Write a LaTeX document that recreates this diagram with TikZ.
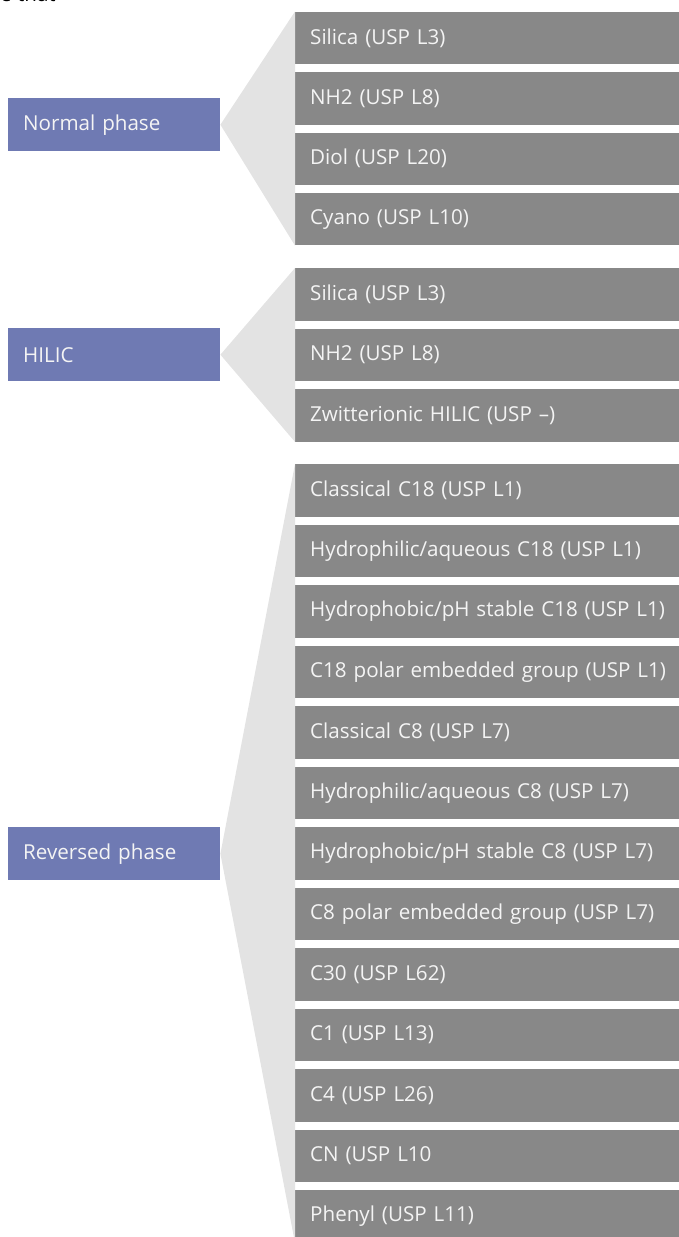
\documentclass[tikz,border=0pt]{standalone}
\usepackage{fontspec}
\setmainfont{Open Sans}
\definecolor{catblue}{RGB}{111,122,179}
\definecolor{itemgray}{RGB}{136,136,136}
\definecolor{fanlight}{RGB}{227,227,227}
\definecolor{softwhite}{RGB}{244,244,244}
\begin{document}
\begin{tikzpicture}[x=1pt,y=-1pt,
  catbox/.style={fill=catblue,text=softwhite,minimum width=212pt,minimum height=53pt,
    inner sep=0pt,inner xsep=15pt,text width=182pt,align=left,anchor=north west,
    font=\fontsize{20.6}{24}\selectfont},
  itembox/.style={fill=itemgray,text=softwhite,minimum height=52.5pt,
    inner sep=0pt,inner xsep=15pt,text width=370pt,align=left,anchor=north west,
    font=\fontsize{20.6}{24}\selectfont},
  fan/.style={fill=fanlight,draw=none}]
\useasboundingbox (0,0) rectangle (678,1237);
% top fragment
\node[anchor=base west,inner sep=0pt,font=\fontsize{20.6}{24}\selectfont] (frag) at (0,1.5) {e that};
% Normal phase
\node[catbox] (np) at (8,98) {Normal phase};
\foreach \t [count=\i from 0] in {Silica (USP L3),NH2 (USP L8),Diol (USP L20),Cyano (USP L10)}
  \node[itembox] (np\i) at (295,{11.5+60.4*\i}) {\t};
% HILIC
\node[catbox] (hi) at (8,328) {HILIC};
\foreach \t [count=\i from 0] in {Silica (USP L3),NH2 (USP L8),Zwitterionic HILIC (USP –)}
  \node[itembox] (hi\i) at (295,{268+60.5*\i}) {\t};
% Reversed phase
\node[catbox] (rp) at (8,827) {Reversed phase};
\foreach \t [count=\i from 0] in {Classical C18 (USP L1),Hydrophilic/aqueous C18 (USP L1),Hydrophobic/pH stable C18 (USP L1),C18 polar embedded group (USP L1),Classical C8 (USP L7),Hydrophilic/aqueous C8 (USP L7),Hydrophobic/pH stable C8 (USP L7),C8 polar embedded group (USP L7),C30 (USP L62),C1 (USP L13),C4 (USP L26),CN (USP L10,Phenyl (USP L11)}
  \node[itembox] (rp\i) at (295,{464+60.5*\i}) {\t};
% fans
\fill[fan] (np.east) -- (np0.north west) -- (np3.south west) -- cycle;
\fill[fan] (hi.east) -- (hi0.north west) -- (hi2.south west) -- cycle;
\fill[fan] (rp.east) -- (rp0.north west) -- (rp12.south west) -- cycle;
\end{tikzpicture}
\end{document}
